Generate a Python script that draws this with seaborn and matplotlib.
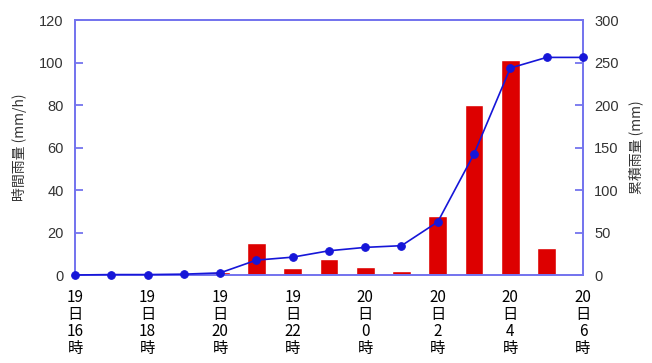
import matplotlib
matplotlib.use("Agg")
import matplotlib.pyplot as plt
import seaborn as sns
import pandas as pd

# Hourly observations, 19日16時 to 20日6時
hours = ["19日16時", "17時", "18時", "19時", "20時", "21時", "22時", "23時",
         "20日0時", "1時", "2時", "3時", "4時", "5時", "6時"]
hourly_rain = [0, 0.5, 0, 0.5, 1.5, 15, 3.5, 7.5, 4, 2, 28, 80, 101, 12.5, 0]
cumulative_rain = [0, 0.5, 0.5, 1, 2.5, 17.5, 21, 28.5, 32.5, 34.5, 62.5, 142.5, 243.5, 256, 256]

tick_labels = ["19\n日\n16\n時", "19\n日\n18\n時", "19\n日\n20\n時", "19\n日\n22\n時",
               "20\n日\n0\n時", "20\n日\n2\n時", "20\n日\n4\n時", "20\n日\n6\n時"]

sns.set_theme(style="white")
plt.rcParams["font.family"] = ["Liberation Sans", "Noto Sans CJK JP", "DejaVu Sans"]

frame_color = "#7474ee"
bar_color = "#dd0000"
line_color = "#1616d8"
text_color = "#333333"

df = pd.DataFrame({"pos": list(range(len(hours))), "hour": hours,
                   "hourly": hourly_rain, "cumulative": cumulative_rain})

fig = plt.figure(figsize=(6.52, 3.63), dpi=100)
ax = fig.add_axes([0.115, 0.2424, 0.779, 0.7025])

sns.barplot(data=df, x="pos", y="hourly", color=bar_color, width=0.52,
            saturation=1, native_scale=True, ax=ax, zorder=2)
ax.set_ylim(0, 120)
ax.set_yticks([0, 20, 40, 60, 80, 100, 120])
ax.set_xlim(0, len(hours) - 1)

ax2 = ax.twinx()
sns.lineplot(data=df, x="pos", y="cumulative", color=line_color, marker="o",
             markersize=5.5, markeredgecolor=line_color, linewidth=1.2, ax=ax2,
             clip_on=False, zorder=3)
ax2.set_ylim(0, 300)
ax2.set_yticks([0, 50, 100, 150, 200, 250, 300])
ax2.set_xlim(0, len(hours) - 1)

ax.set_xticks(list(range(0, len(hours), 2)))
ax.set_xticklabels(tick_labels, family=["Noto Sans CJK JP"], fontsize=11,
                   color="black", linespacing=1.0)
ax.tick_params(axis="x", length=0, pad=10)

for a in (ax, ax2):
    for side in a.spines.values():
        side.set_color(frame_color)
        side.set_linewidth(1.3)
    a.set_xlabel("")
    a.grid(False)

ax.tick_params(axis="y", left=True, right=False, direction="in", length=6,
               width=1.3, color=frame_color, labelsize=10.5,
               labelcolor=text_color, pad=8)
ax2.tick_params(axis="y", right=True, left=False, direction="in", length=6,
                width=1.3, color=frame_color, labelsize=10.5,
                labelcolor=text_color, pad=8)

ax.set_ylabel("時間雨量 (mm/h)", family=["Noto Sans CJK JP"], fontsize=10,
              color=text_color, labelpad=9)
ax2.set_ylabel("累積雨量 (mm)", family=["Noto Sans CJK JP"], fontsize=10,
               color=text_color, rotation=90, labelpad=7)

fig.savefig("out.png", dpi=100)
